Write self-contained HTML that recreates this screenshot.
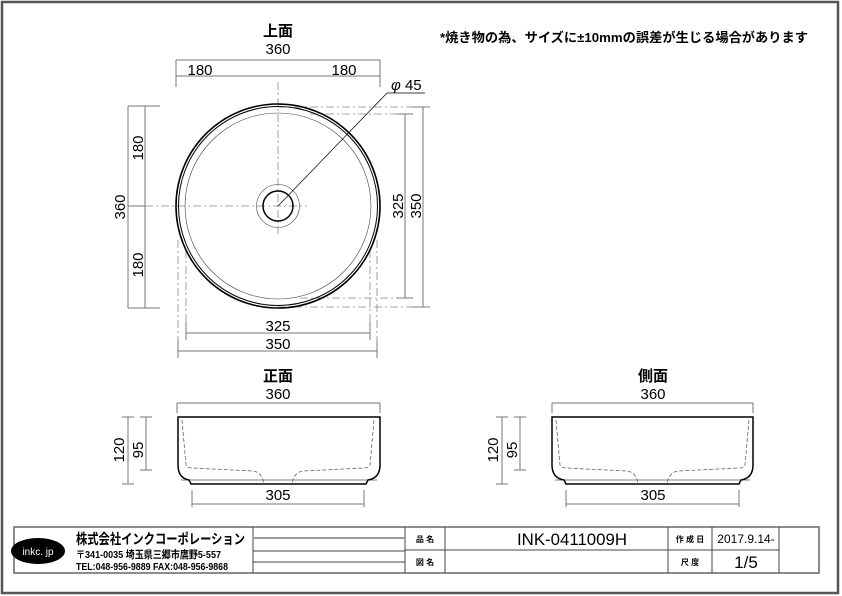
<!DOCTYPE html>
<html><head><meta charset="utf-8"><style>
html,body{margin:0;padding:0;background:#fff}
svg{display:block}
text{font-family:"Liberation Sans","Noto Sans CJK JP",sans-serif;fill:#000}
</style></head><body>
<svg width="842" height="596" viewBox="0 0 842 596" xmlns="http://www.w3.org/2000/svg">
<rect x="2" y="2" width="836" height="591" fill="none" stroke="#555" stroke-width="2.5"/>

<!-- note -->
<text x="440" y="42" font-size="13" font-weight="bold" textLength="368" lengthAdjust="spacingAndGlyphs">*焼き物の為、サイズに±10mmの誤差が生じる場合があります</text>

<!-- TOP VIEW -->
<text x="278" y="36" font-size="15" font-weight="bold" text-anchor="middle">上面</text>
<text x="278" y="54" font-size="15" text-anchor="middle">360</text>
<g fill="none" stroke="#777" stroke-width="1">
<path d="M176,60 H380 M176,76 H380 M176,60 V87 M380,60 V87"/>
<path d="M128,106 H160 M128,308 H160 M128,106 V308 M145,106 V308 M128,206 H145"/>
<path d="M405,114 V298 M423,107 V307 M396,114 H413 M396,298 H413 M410,107 H430 M410,307 H430"/>
<path d="M186,333 H370 M178,351 H377 M186,322 V340 M370,322 V340 M178,340 V358 M377,340 V358"/>
</g>
<g fill="none" stroke="#888" stroke-width="0.8" stroke-dasharray="8,3,2,3">
<path d="M278,82 V236 M145,206 H307"/>
<path d="M278,107 H423 M310,114 H405 M300,298 H405 M278,307 H423"/>
<path d="M178,240 V340 M186,250 V333 M370,250 V333 M377,240 V351"/>
</g>
<text x="200" y="75" font-size="15" text-anchor="middle">180</text>
<text x="344" y="75" font-size="15" text-anchor="middle">180</text>
<text transform="translate(143,148) rotate(-90)" font-size="15" text-anchor="middle">180</text>
<text transform="translate(143,265) rotate(-90)" font-size="15" text-anchor="middle">180</text>
<text transform="translate(125,207) rotate(-90)" font-size="15" text-anchor="middle">360</text>
<text transform="translate(403,206) rotate(-90)" font-size="15" text-anchor="middle">325</text>
<text transform="translate(421,206) rotate(-90)" font-size="15" text-anchor="middle">350</text>
<text x="278" y="331" font-size="15" text-anchor="middle">325</text>
<text x="278" y="349" font-size="15" text-anchor="middle">350</text>
<g fill="none" stroke="#000">
<circle cx="278" cy="206" r="102" stroke-width="1.6"/>
<circle cx="278" cy="206" r="99.5" stroke-width="1"/>
<circle cx="278" cy="206" r="93" stroke-width="0.6" stroke="#444"/>
<circle cx="278" cy="206" r="15" stroke-width="1.5"/>
<circle cx="278" cy="206" r="21.5" stroke-width="0.6" stroke="#444"/>
<path d="M278,206 L387,93 H425" stroke-width="0.7"/>
</g>
<text x="391" y="90" font-size="15"><tspan font-style="italic">φ</tspan> 45</text>

<!-- FRONT VIEW -->
<text x="278" y="381" font-size="15" font-weight="bold" text-anchor="middle">正面</text>
<text x="278" y="399" font-size="15" text-anchor="middle">360</text>
<g fill="none" stroke="#777" stroke-width="1">
<path d="M177,403 H380 M177,403 V413 M380,403 V413"/>
<path d="M128,417 V484 M122,417 H134 M122,484 H134 M146,417 V470 M140,417 H152 M140,470 H152"/>
<path d="M192,504 H364 M192,490 V507 M364,490 V507"/>
</g>
<path d="M178,417 H380 V465 Q380,478 368,480 L366,484 H191 L189,480 Q178,478 178,465 Z" fill="none" stroke="#000" stroke-width="1.5"/>
<path d="M181,480 H377" stroke="#000" stroke-width="0.6"/>
<path d="M182,420 L186,465 Q187,468 192,468 L253,471 Q262,472 264,484 M374,420 L370,465 Q369,468 364,468 L303,471 Q294,472 292,484" fill="none" stroke="#666" stroke-width="0.8" stroke-dasharray="4,2"/>
<text transform="translate(124,450) rotate(-90)" font-size="15" text-anchor="middle">120</text>
<text transform="translate(143,450) rotate(-90)" font-size="15" text-anchor="middle">95</text>
<text x="278" y="500" font-size="15" text-anchor="middle">305</text>

<!-- SIDE VIEW -->
<text x="653" y="381" font-size="15" font-weight="bold" text-anchor="middle">側面</text>
<text x="653" y="399" font-size="15" text-anchor="middle">360</text>
<g fill="none" stroke="#777" stroke-width="1">
<path d="M552,403 H753 M552,403 V413 M753,403 V413"/>
<path d="M502,417 V484 M496,417 H508 M496,484 H508 M520,417 V470 M514,417 H526 M514,470 H526"/>
<path d="M566,504 H739 M566,490 V507 M739,490 V507"/>
</g>
<path d="M552,417 H753 V465 Q753,478 741,480 L739,484 H566 L564,480 Q552,478 552,465 Z" fill="none" stroke="#000" stroke-width="1.5"/>
<path d="M555,480 H750" stroke="#000" stroke-width="0.6"/>
<path d="M556,420 L560,465 Q561,468 566,468 L627,471 Q636,472 638,484 M749,420 L745,465 Q744,468 739,468 L678,471 Q669,472 667,484" fill="none" stroke="#666" stroke-width="0.8" stroke-dasharray="4,2"/>
<text transform="translate(498,450) rotate(-90)" font-size="15" text-anchor="middle">120</text>
<text transform="translate(517,450) rotate(-90)" font-size="15" text-anchor="middle">95</text>
<text x="653" y="500" font-size="15" text-anchor="middle">305</text>

<!-- TITLE BLOCK -->
<g fill="none" stroke="#444" stroke-width="1">
<rect x="14" y="527" width="805" height="46" stroke="#666" stroke-width="1.5"/>
<path d="M253,527 V573 M405,527 V573 M445,527 V573 M668,527 V573 M712,527 V573 M779,527 V573"/>
<path d="M405,550 H779 M253,551 H405 M253,562 H405"/>
<path d="M253,538 H405" stroke="#999" stroke-width="2"/>
</g>
<ellipse cx="38" cy="551" rx="27" ry="13" fill="#000"/>
<text x="38" y="555" font-size="10" text-anchor="middle" style="fill:#fff">inkc. jp</text>
<text x="76" y="544" font-size="14" font-weight="bold" textLength="169" lengthAdjust="spacingAndGlyphs">株式会社インクコーポレーション</text>
<text x="76" y="558" font-size="10.5" font-weight="bold" textLength="145" lengthAdjust="spacingAndGlyphs">〒341-0035 埼玉県三郷市鷹野5-557</text>
<text x="76" y="570" font-size="10.5" font-weight="bold" textLength="152" lengthAdjust="spacingAndGlyphs">TEL:048-956-9889  FAX:048-956-9868</text>
<text x="425" y="542" font-size="8" font-weight="bold" text-anchor="middle">品 名</text>
<text x="425" y="565" font-size="8" font-weight="bold" text-anchor="middle">図 名</text>
<text x="572" y="545" font-size="17" textLength="110" lengthAdjust="spacingAndGlyphs" text-anchor="middle">INK-0411009H</text>
<text x="690" y="542" font-size="8" font-weight="bold" text-anchor="middle">作 成 日</text>
<text x="690" y="565" font-size="8" font-weight="bold" text-anchor="middle">尺 度</text>
<text x="746" y="543" font-size="12" text-anchor="middle">2017.9.14-</text>
<text x="746" y="568" font-size="17" text-anchor="middle">1/5</text>
</svg>
</body></html>
